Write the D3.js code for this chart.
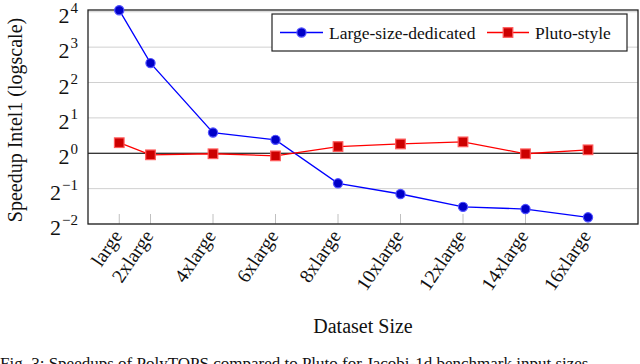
<!DOCTYPE html>
<html>
<head>
<meta charset="utf-8">
<script src="https://cdn.jsdelivr.net/npm/d3@7"></script>
<style>
  html, body { margin: 0; padding: 0; background: #fff; }
  svg { display: block; font-family: "Liberation Serif", "DejaVu Serif", serif; }
</style>
</head>
<body>
<svg id="chart" width="640" height="364"></svg>
<script>
// ---- data ----
const sizes = [1, 2, 4, 6, 8, 10, 12, 14, 16];
const sizeLabels = ["large", "2xlarge", "4xlarge", "6xlarge", "8xlarge", "10xlarge", "12xlarge", "14xlarge", "16xlarge"];
const largeSizeDedicated = [16.5, 5.85, 1.50, 1.30, 0.555, 0.45, 0.35, 0.335, 0.285];
const plutoStyle = [1.23, 0.97, 0.99, 0.95, 1.14, 1.20, 1.25, 0.99, 1.07];
const yTickExponents = [4, 3, 2, 1, 0, -1, -2];
const seriesNames = ["Large-size-dedicated", "Pluto-style"];

// ---- layout ----
const svg = d3.select("#chart");
const pL = 88, pR = 638, pT = 10, pB = 224;

const x = d3.scaleLinear().domain([0, 17.6]).range([pL, pR]);
const y = d3.scaleLog().base(2).domain([Math.pow(2, -2), Math.pow(2, 4.05)]).range([pB, pT]);

// horizontal grid
svg.append("g").selectAll("line").data(yTickExponents).join("line")
  .attr("x1", pL).attr("x2", pR)
  .attr("y1", d => y(Math.pow(2, d))).attr("y2", d => y(Math.pow(2, d)))
  .attr("stroke", "#d0d0d0").attr("stroke-width", 1);

// bottom ticks (gray, inward)
svg.append("g").selectAll("line").data(sizes).join("line")
  .attr("x1", d => x(d)).attr("x2", d => x(d))
  .attr("y1", pB).attr("y2", pB - 10)
  .attr("stroke", "#c0c0c0").attr("stroke-width", 1);

// baseline at 2^0
svg.append("line")
  .attr("x1", pL).attr("x2", pR)
  .attr("y1", y(1)).attr("y2", y(1))
  .attr("stroke", "#000").attr("stroke-width", 1.2);

// frame
svg.append("rect")
  .attr("x", pL).attr("y", pT).attr("width", pR - pL).attr("height", pB - pT)
  .attr("fill", "none").attr("stroke", "#222").attr("stroke-width", 1.3);

// y tick labels
const yl = svg.append("g").selectAll("text").data(yTickExponents).join("text")
  .attr("x", 78).attr("y", d => y(Math.pow(2, d)) + 11)
  .attr("text-anchor", "end").attr("fill", "#111")
  .style("font-size", "22px");
yl.append("tspan").text("2");
yl.append("tspan").attr("dx", 1).attr("dy", -10).style("font-size", "15px").text(d => d < 0 ? "\u2212" + (-d) : String(d));

// x tick labels
svg.append("g").selectAll("text").data(sizes).join("text")
  .attr("transform", d => `translate(${x(d) - 2},${pB + 8}) rotate(-56)`)
  .attr("text-anchor", "end").attr("dy", "0.35em")
  .attr("fill", "#111").style("font-size", "19.5px")
  .text((d, i) => sizeLabels[i]);

// axis titles
svg.append("text")
  .attr("x", 363).attr("y", 333).attr("text-anchor", "middle")
  .attr("fill", "#111").style("font-size", "20px").text("Dataset Size");
svg.append("text")
  .attr("transform", `translate(22,${(pT + pB) / 2 + 3}) rotate(-90)`)
  .attr("text-anchor", "middle").attr("fill", "#111").style("font-size", "20px")
  .text("Speedup Intel1 (logscale)");

// caption (clipped at bottom, as in the reference)
svg.append("text")
  .attr("x", 0).attr("y", 369).attr("fill", "#111").style("font-size", "17px")
  .text("Fig. 3: Speedups of PolyTOPS compared to Pluto for Jacobi-1d benchmark input sizes");

// lines
const line = d3.line().x((d, i) => x(sizes[i])).y(d => y(d));
svg.append("path").datum(largeSizeDedicated).attr("d", line)
  .attr("fill", "none").attr("stroke", "#0000ff").attr("stroke-width", 1.3);
svg.append("path").datum(plutoStyle).attr("d", line)
  .attr("fill", "none").attr("stroke", "#ff0000").attr("stroke-width", 1.3);

// markers
svg.append("g").selectAll("circle").data(largeSizeDedicated).join("circle")
  .attr("cx", (d, i) => x(sizes[i])).attr("cy", d => y(d)).attr("r", 4.6)
  .attr("fill", "#0000c8").attr("stroke", "#5050ff").attr("stroke-width", 1.2);
svg.append("g").selectAll("rect").data(plutoStyle).join("rect")
  .attr("x", (d, i) => x(sizes[i]) - 4.8).attr("y", d => y(d) - 4.8)
  .attr("width", 9.6).attr("height", 9.6)
  .attr("fill", "#cc0000").attr("stroke", "#ff5a5a").attr("stroke-width", 1.2);

// legend
const lg = svg.append("g");
lg.append("rect").attr("x", 272).attr("y", 14).attr("width", 355).attr("height", 37)
  .attr("fill", "#fff").attr("stroke", "#222").attr("stroke-width", 1.2);
const ly = 32.5;
lg.append("line").attr("x1", 280).attr("x2", 323).attr("y1", ly).attr("y2", ly)
  .attr("stroke", "#0000ff").attr("stroke-width", 1.3);
lg.append("circle").attr("cx", 301.5).attr("cy", ly).attr("r", 4.6)
  .attr("fill", "#0000c8").attr("stroke", "#5050ff").attr("stroke-width", 1.2);
lg.append("text").attr("x", 329).attr("y", ly + 6).attr("fill", "#111")
  .style("font-size", "17.5px").text(seriesNames[0]);
lg.append("line").attr("x1", 487).attr("x2", 529).attr("y1", ly).attr("y2", ly)
  .attr("stroke", "#ff0000").attr("stroke-width", 1.3);
lg.append("rect").attr("x", 508 - 4.8).attr("y", ly - 4.8).attr("width", 9.6).attr("height", 9.6)
  .attr("fill", "#cc0000").attr("stroke", "#ff5a5a").attr("stroke-width", 1.2);
lg.append("text").attr("x", 535).attr("y", ly + 6).attr("fill", "#111")
  .style("font-size", "17.5px").text(seriesNames[1]);
</script>
</body>
</html>
